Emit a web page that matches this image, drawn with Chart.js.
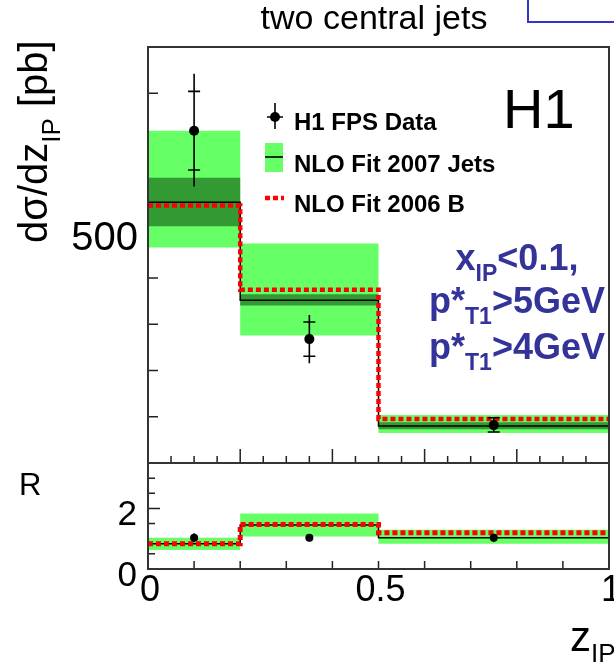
<!DOCTYPE html>
<html>
<head>
<meta charset="utf-8">
<script src="https://cdn.jsdelivr.net/npm/chart.js@4.4.1/dist/chart.umd.min.js"></script>
<style>
  html, body { margin: 0; padding: 0; background: #fff; }
  #wrap { position: relative; width: 614px; height: 662px; overflow: hidden; }
  #wrap canvas { position: absolute; left: 0; top: 0; }
</style>
</head>
<body>
<div id="wrap">
  <canvas id="top" width="614" height="662"></canvas>
  <canvas id="ratio" width="614" height="662"></canvas>
</div>
<script>
// z_IP bins and data point positions
const binEdges = [0, 0.2, 0.5, 1.0];
const dataZ = [0.1, 0.35, 0.75];

// upper panel: dsigma/dz_IP [pb]
const xsecData = [719, 268, 82];
const xsecStatLo = [634, 231, 67];
const xsecStatHi = [804, 305, 98];
const xsecTotLo = [598, 216, 66];
const xsecTotHi = [842, 320, 99];
const fit2007 = [564, 352, 80];
const fit2007Lo = [466, 276, 65];
const fit2007Hi = [719, 475, 104];
const fit2007ScaleLo = [512, 341, 73];
const fit2007ScaleHi = [617, 365, 88];
const fit2006B = [557, 375, 95];

// lower panel: ratio R
const ratioData = [1.03, 1.03, 1.03];
const ratioErrLo = [0.88, 0.91, 0.9];
const ratioErrHi = [1.18, 1.15, 1.16];
const ratio2007 = [0.83, 1.45, 1.03];
const ratio2007Lo = [0.63, 1.07, 0.83];
const ratio2007Hi = [1.03, 1.83, 1.3];
const ratio2006B = [0.83, 1.47, 1.2];

// tick labels
const xTickLabels = ['0', '0.5', '1'];
const yTickLabelsTop = ['500'];
const yTickLabelsRatio = ['0', '2'];

const LIGHT = '#66ff66';
const DARK = '#339933';
const RED = '#ff0000';
const FONT = '"Liberation Sans", Arial, sans-serif';

// histogram as stepped line: value of bin i starts at its left edge
function steps(vals) {
    const pts = vals.map((v, i) => ({ x: binEdges[i], y: v }));
    pts.push({ x: binEdges[binEdges.length - 1], y: vals[vals.length - 1] });
    return pts;
}

function band(hi, lo, color, order) {
    return [
        { data: steps(hi), stepped: true, fill: '+1', backgroundColor: color,
          borderColor: 'transparent', borderWidth: 1, pointRadius: 0, order: order },
        { data: steps(lo), stepped: true, fill: false,
          borderColor: 'transparent', borderWidth: 1, pointRadius: 0, order: order }
    ];
}

function stepLine(vals, color, width, dash, order) {
    return { data: steps(vals), stepped: true, fill: false, borderColor: color,
             borderWidth: width, borderDash: dash, borderCapStyle: 'butt',
             pointRadius: 0, order: order };
}

function points(vals, extra) {
    return Object.assign({
        data: dataZ.map((z, i) => ({ x: z, y: vals[i] })),
        showLine: false, pointRadius: 5, pointBackgroundColor: '#000',
        pointBorderColor: '#000', pointBorderWidth: 0, order: 0
    }, extra);
}

const errorBars = {
    id: 'errorBars',
    beforeDatasetDraw(chart, args) {
        const ds = chart.data.datasets[args.index];
        if (!ds.errLo) return;
        const { ctx, scales: { x, y } } = chart;
        ctx.save();
        ctx.strokeStyle = '#000';
        ctx.lineWidth = 1.6;
        ds.data.forEach((p, i) => {
            const px = x.getPixelForValue(p.x);
            ctx.beginPath();
            ctx.moveTo(px, y.getPixelForValue(ds.errLo[i]));
            ctx.lineTo(px, y.getPixelForValue(ds.errHi[i]));
            if (ds.capLo) {
                [ds.capLo[i], ds.capHi[i]].forEach(v => {
                    const py = y.getPixelForValue(v);
                    ctx.moveTo(px - 6, py);
                    ctx.lineTo(px + 6, py);
                });
            }
            ctx.stroke();
        });
        ctx.restore();
    }
};

// draws a line of text with subscripts, parts = [[text, isSub], ...]
function richText(ctx, parts, x, y, size, subSize, subShift, weight, align) {
    const main = weight + ' ' + size + 'px ' + FONT;
    const sub = weight + ' ' + subSize + 'px ' + FONT;
    let total = 0;
    parts.forEach(([t, s]) => { ctx.font = s ? sub : main; total += ctx.measureText(t).width; });
    let cx = align === 'center' ? x - total / 2 : x;
    ctx.textAlign = 'left';
    ctx.textBaseline = 'alphabetic';
    parts.forEach(([t, s]) => {
        ctx.font = s ? sub : main;
        ctx.fillText(t, cx, s ? y + subShift : y);
        cx += ctx.measureText(t).width;
    });
}

function frame(chart) {
    const { ctx, chartArea: a } = chart;
    ctx.save();
    ctx.strokeStyle = '#333';
    ctx.lineWidth = 2;
    ctx.strokeRect(a.left, a.top, a.right - a.left, a.bottom - a.top);
    ctx.restore();
}

const topDecor = {
    id: 'topDecor',
    beforeDatasetsDraw(chart) {
        const { ctx, chartArea: a, scales: { x, y } } = chart;
        ctx.save();
        ctx.strokeStyle = '#222';
        ctx.lineWidth = 1.5;
        ctx.beginPath();
        for (let v = 100; v < 900; v += 100) {
            const py = y.getPixelForValue(v);
            ctx.moveTo(a.left, py);
            ctx.lineTo(a.left + (v % 500 === 0 ? 20 : 10), py);
        }
        for (let i = 1; i < 20; i++) {
            const px = x.getPixelForValue(i * 0.05);
            ctx.moveTo(px, a.bottom);
            ctx.lineTo(px, a.bottom - (i % 4 === 0 ? 14 : 7));
        }
        ctx.stroke();
        ctx.restore();
    },
    afterDatasetsDraw(chart) {
        const { ctx, scales: { y } } = chart;
        frame(chart);
        ctx.save();
        ctx.fillStyle = '#000';

        // title
        ctx.font = '34px ' + FONT;
        ctx.textAlign = 'center';
        ctx.fillText('two central jets', 374, 29);

        // tick label
        ctx.font = '40px ' + FONT;
        ctx.textAlign = 'right';
        ctx.textBaseline = 'middle';
        yTickLabelsTop.forEach(t => ctx.fillText(t, 138, y.getPixelForValue(parseFloat(t)) + 7));

        // y title, rotated
        ctx.save();
        ctx.translate(47, 243);
        ctx.rotate(-Math.PI / 2);
        richText(ctx, [['d\u03c3/dz', false], ['IP', true], [' [pb]', false]], 0, 0, 40, 26, 13, 'normal', 'left');
        ctx.restore();

        // H1
        ctx.font = '56px ' + FONT;
        ctx.textAlign = 'left';
        ctx.textBaseline = 'alphabetic';
        ctx.fillText('H1', 503, 128);

        // legend
        ctx.strokeStyle = '#000';
        ctx.lineWidth = 1.6;
        ctx.beginPath();
        ctx.moveTo(275, 103); ctx.lineTo(275, 129);
        ctx.moveTo(267, 117); ctx.lineTo(283, 117);
        ctx.stroke();
        ctx.beginPath();
        ctx.arc(275, 117, 5, 0, Math.PI * 2);
        ctx.fill();
        ctx.fillStyle = LIGHT;
        ctx.fillRect(265, 143, 18, 29);
        ctx.beginPath();
        ctx.moveTo(265, 157); ctx.lineTo(283, 157);
        ctx.stroke();
        ctx.strokeStyle = RED;
        ctx.lineWidth = 4.5;
        ctx.setLineDash([5, 3]);
        ctx.beginPath();
        ctx.moveTo(265, 198); ctx.lineTo(284, 198);
        ctx.stroke();
        ctx.setLineDash([]);
        ctx.fillStyle = '#000';
        ctx.font = 'bold 24px ' + FONT;
        ctx.fillText('H1 FPS Data', 294, 130);
        ctx.fillText('NLO Fit 2007 Jets', 294, 172);
        ctx.fillText('NLO Fit 2006 B', 294, 212);

        // cuts
        ctx.fillStyle = '#333399';
        richText(ctx, [['x', false], ['IP', true], ['<0.1,', false]], 517, 270, 36, 23, 11, 'bold', 'center');
        richText(ctx, [['p*', false], ['T1', true], ['>5GeV', false]], 517, 313, 36, 23, 11, 'bold', 'center');
        richText(ctx, [['p*', false], ['T1', true], ['>4GeV', false]], 517, 359, 36, 23, 11, 'bold', 'center');

        // box edge at top right
        ctx.strokeStyle = '#3333cc';
        ctx.lineWidth = 2;
        ctx.beginPath();
        ctx.moveTo(528, 0); ctx.lineTo(528, 22); ctx.lineTo(614, 22);
        ctx.stroke();
        ctx.restore();
    }
};

const ratioDecor = {
    id: 'ratioDecor',
    beforeDatasetsDraw(chart) {
        const { ctx, chartArea: a, scales: { x, y } } = chart;
        ctx.save();
        ctx.strokeStyle = '#222';
        ctx.lineWidth = 1.5;
        ctx.beginPath();
        for (let v = 0.5; v < 3.5; v += 0.5) {
            const py = y.getPixelForValue(v);
            ctx.moveTo(a.left, py);
            ctx.lineTo(a.left + (v === 2 ? 12 : 7), py);
        }
        for (let i = 1; i < 10; i++) {
            const px = x.getPixelForValue(i * 0.1);
            ctx.moveTo(px, a.bottom);
            ctx.lineTo(px, a.bottom - 8);
        }
        ctx.stroke();
        ctx.restore();
    },
    afterDatasetsDraw(chart) {
        const { ctx, scales: { x, y } } = chart;
        frame(chart);
        ctx.save();
        ctx.fillStyle = '#000';
        ctx.textBaseline = 'middle';
        ctx.font = '35px ' + FONT;
        ctx.textAlign = 'right';
        yTickLabelsRatio.forEach(t => ctx.fillText(t, 137, y.getPixelForValue(parseFloat(t)) + 7));
        ctx.font = '36px ' + FONT;
        ctx.textAlign = 'center';
        xTickLabels.forEach(t => ctx.fillText(t, x.getPixelForValue(parseFloat(t)) + 2, 591));

        ctx.textBaseline = 'alphabetic';
        ctx.textAlign = 'left';
        ctx.font = '31px ' + FONT;
        ctx.fillText('R', 19, 495);
        richText(ctx, [['z', false], ['IP', true]], 570, 651, 42, 26, 11, 'normal', 'left');
        ctx.restore();
    }
};

function baseOptions(padding, ymax) {
    return {
        responsive: false,
        animation: false,
        layout: { padding: padding },
        plugins: { legend: { display: false }, tooltip: { enabled: false }, title: { display: false } },
        scales: {
            x: { type: 'linear', min: 0, max: 1, display: false },
            y: { type: 'linear', min: 0, max: ymax, display: false }
        }
    };
}

new Chart(document.getElementById('top'), {
    type: 'line',
    data: {
        datasets: [
            ...band(fit2007Hi, fit2007Lo, LIGHT, 6),
            ...band(fit2007ScaleHi, fit2007ScaleLo, DARK, 4),
            stepLine(fit2007, '#000', 1.5, [], 2),
            stepLine(fit2006B, RED, 4.5, [5, 3], 1),
            points(xsecData, { errLo: xsecTotLo, errHi: xsecTotHi, capLo: xsecStatLo, capHi: xsecStatHi })
        ]
    },
    options: baseOptions({ left: 148, top: 47, right: 4, bottom: 199 }, 900),
    plugins: [errorBars, topDecor]
});

new Chart(document.getElementById('ratio'), {
    type: 'line',
    data: {
        datasets: [
            ...band(ratio2007Hi, ratio2007Lo, LIGHT, 6),
            stepLine(ratio2007, '#000', 1.5, [], 2),
            stepLine(ratio2006B, RED, 5, [5, 3], 1),
            points(ratioData, { pointRadius: 4, errLo: ratioErrLo, errHi: ratioErrHi })
        ]
    },
    options: baseOptions({ left: 148, top: 463, right: 5, bottom: 93 }, 3.5),
    plugins: [errorBars, ratioDecor]
});
</script>
</body>
</html>
